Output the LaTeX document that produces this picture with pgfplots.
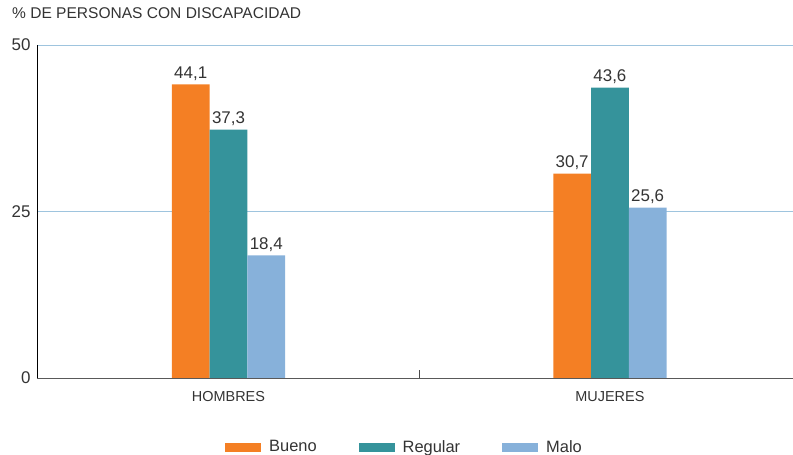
\documentclass[border=0pt]{standalone}
\usepackage{fontspec}
\setmainfont{Liberation Sans}
\usepackage{pgfplots}
\pgfplotsset{compat=1.18}
\definecolor{bueno}{HTML}{F47F24}
\definecolor{regular}{HTML}{35939B}
\definecolor{malo}{HTML}{87B1DA}
\definecolor{gridblue}{HTML}{9EC4DE}
\definecolor{txt}{HTML}{333333}

\begin{document}
\begin{tikzpicture}
\useasboundingbox (0,0) rectangle (793bp,455bp);
\begin{axis}[
  at={(37bp,77bp)}, anchor=south west,
  scale only axis, width=756bp, height=333bp,
  xmin=-0.502, xmax=1.48, ymin=0, ymax=50,
  axis x line*=bottom, axis y line*=left,
  x axis line style={draw=black!65, -},
  y axis line style={draw=black, -},
  /pgf/number format/assume math mode=true,
  xtick={0,1}, xticklabels={HOMBRES,MUJERES},
  major tick length=0pt,
  extra x ticks={0.5}, extra x tick labels={},
  extra x tick style={major tick length=8bp, tick align=inside,
    tick style={black!70, line width=0.6pt}, grid=none},
  ytick={0,25,50}, ymajorgrids,
  major grid style={draw=gridblue, line width=0.9pt},
  tick label style={text=txt},
  yticklabel style={font=\fontsize{17}{17}\selectfont, xshift=-3bp},
  xticklabel style={font=\fontsize{14.5}{14.5}\selectfont, yshift=-10bp},
  title={\% DE PERSONAS CON DISCAPACIDAD},
  title style={at={(axis description cs:0,1)}, anchor=base west, inner sep=0pt,
    xshift=-25bp, yshift=21bp, font=\fontsize{15.6}{15.6}\selectfont, text=txt},
  ybar, bar width=0.099,
  nodes near coords={\pgfmathprintnumber[fixed,fixed zerofill,precision=1,use comma,assume math mode=true]{\pgfplotspointmeta}},
  every node near coord/.append style={font=\fontsize{17}{17}\selectfont, text=txt},
  legend style={at={(axis description cs:0.5,0)}, anchor=center,
    xshift=-10.5bp, yshift=-69bp, draw=none, fill=none,
    font=\fontsize{16.5}{16.5}\selectfont, text=txt,
    /tikz/every odd column/.append style={column sep=6bp},
    /tikz/every even column/.append style={column sep=40bp}},
  legend columns=3,
  legend image code/.code={\fill[#1] (0bp,-4.5bp) rectangle (36bp,4.5bp);},
]
\addplot[fill=bueno, draw=none, bar shift=-0.099] coordinates {(0,44.1) (1,30.7)};
\addplot[fill=regular, draw=none, bar shift=0] coordinates {(0,37.3) (1,43.6)};
\addplot[fill=malo, draw=none, bar shift=0.099] coordinates {(0,18.4) (1,25.6)};
\legend{Bueno, Regular, Malo}
\end{axis}
\end{tikzpicture}
\end{document}
